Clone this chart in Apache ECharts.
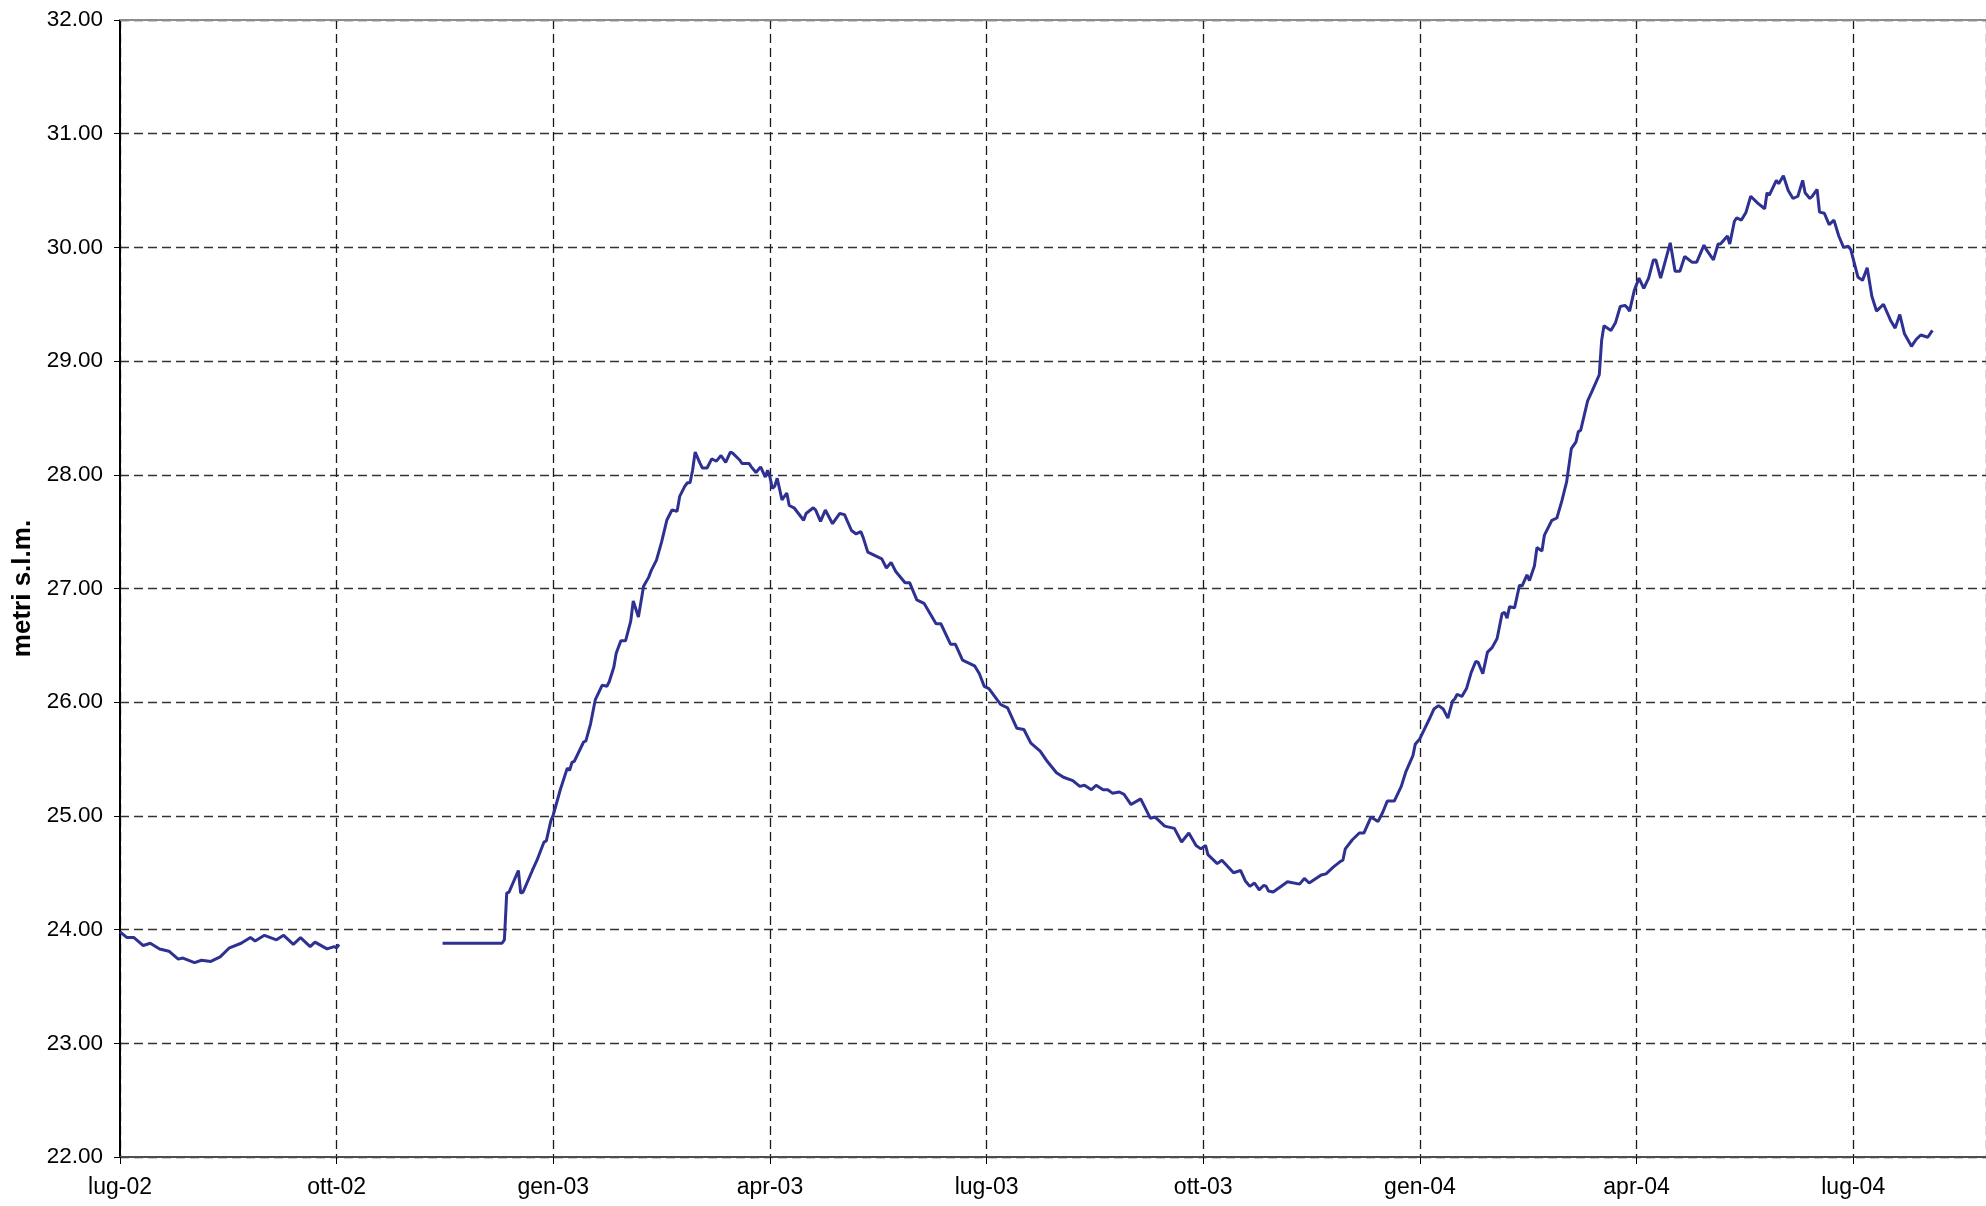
<!DOCTYPE html>
<html lang="it">
<head>
    <meta charset="UTF-8">
    <title>metri s.l.m.</title>
    <script src="https://cdn.jsdelivr.net/npm/echarts@6/dist/echarts.min.js"></script>
    <style>
        html, body { margin: 0; padding: 0; background: #fff; }
        #chart { width: 1986px; height: 1206px; }
    </style>
</head>
<body>
<div id="chart"></div>
<script type="text/javascript">

    // etichette trimestrali dell'asse x
    var quarterLabels = ['lug-02', 'ott-02', 'gen-03', 'apr-03', 'lug-03', 'ott-03', 'gen-04', 'apr-04', 'lug-04'];
    var axisStart = '2002-07-01';
    var axisEnd = '2004-08-27';

    // livello (metri s.l.m.), null = dato mancante
    var dates = [
        '2002-07-01','2002-07-04','2002-07-07','2002-07-11','2002-07-14','2002-07-18','2002-07-22','2002-07-26','2002-07-28',
        '2002-08-02','2002-08-05','2002-08-09','2002-08-13','2002-08-17','2002-08-22','2002-08-26','2002-08-28',
        '2002-09-01','2002-09-06','2002-09-09','2002-09-13','2002-09-16','2002-09-20','2002-09-22','2002-09-27','2002-09-30',
        '2002-10-01','2002-10-02','2002-10-20',
        '2002-11-15','2002-12-10','2002-12-11','2002-12-12','2002-12-13','2002-12-17','2002-12-18','2002-12-19','2002-12-23',
        '2002-12-25','2002-12-28','2002-12-29','2002-12-31',
        '2003-01-01','2003-01-04','2003-01-07','2003-01-08','2003-01-09','2003-01-10','2003-01-14','2003-01-15','2003-01-17',
        '2003-01-19','2003-01-22','2003-01-24','2003-01-25','2003-01-27','2003-01-28','2003-01-30',
        '2003-02-01','2003-02-03','2003-02-04','2003-02-06','2003-02-08','2003-02-10','2003-02-11','2003-02-13','2003-02-15',
        '2003-02-17','2003-02-19','2003-02-21','2003-02-22','2003-02-24','2003-02-25','2003-02-26','2003-02-27','2003-02-28',
        '2003-03-02','2003-03-03','2003-03-05','2003-03-07','2003-03-08','2003-03-09','2003-03-11','2003-03-13','2003-03-15',
        '2003-03-16','2003-03-18','2003-03-19','2003-03-20','2003-03-23','2003-03-24','2003-03-26','2003-03-28','2003-03-30','2003-03-31',
        '2003-04-01','2003-04-02','2003-04-03','2003-04-04','2003-04-06','2003-04-08','2003-04-09','2003-04-11','2003-04-15',
        '2003-04-16','2003-04-19','2003-04-20','2003-04-22','2003-04-24','2003-04-27','2003-04-30',
        '2003-05-02','2003-05-05','2003-05-07','2003-05-09','2003-05-10','2003-05-12','2003-05-16','2003-05-18','2003-05-20',
        '2003-05-22','2003-05-24','2003-05-28','2003-05-30',
        '2003-06-02','2003-06-05','2003-06-10','2003-06-12','2003-06-16','2003-06-18','2003-06-21','2003-06-26','2003-06-28','2003-06-30',
        '2003-07-02','2003-07-07','2003-07-10','2003-07-14','2003-07-17','2003-07-20','2003-07-24','2003-07-27','2003-07-31',
        '2003-08-03','2003-08-07','2003-08-10','2003-08-12','2003-08-15','2003-08-17','2003-08-20','2003-08-22','2003-08-24',
        '2003-08-27','2003-08-29',
        '2003-09-01','2003-09-05','2003-09-09','2003-09-11','2003-09-15','2003-09-19','2003-09-22','2003-09-25','2003-09-28','2003-09-30',
        '2003-10-02','2003-10-03','2003-10-07','2003-10-09','2003-10-14','2003-10-17','2003-10-19','2003-10-21','2003-10-23',
        '2003-10-25','2003-10-27','2003-10-28','2003-10-29','2003-10-31',
        '2003-11-04','2003-11-06','2003-11-11','2003-11-13','2003-11-15','2003-11-20','2003-11-22','2003-11-25','2003-11-28',
        '2003-11-29','2003-11-30',
        '2003-12-03','2003-12-06','2003-12-08','2003-12-11','2003-12-14','2003-12-16','2003-12-18','2003-12-21','2003-12-24',
        '2003-12-26','2003-12-29','2003-12-30',
        '2004-01-01','2004-01-05','2004-01-07','2004-01-09','2004-01-11','2004-01-13','2004-01-15','2004-01-16','2004-01-17',
        '2004-01-19','2004-01-21','2004-01-23','2004-01-25','2004-01-26','2004-01-28','2004-01-30',
        '2004-02-01','2004-02-03','2004-02-05','2004-02-06','2004-02-07','2004-02-08','2004-02-10','2004-02-12','2004-02-13',
        '2004-02-15','2004-02-16','2004-02-18','2004-02-19','2004-02-21','2004-02-22','2004-02-25','2004-02-27','2004-02-29',
        '2004-03-02','2004-03-04','2004-03-06','2004-03-07','2004-03-08','2004-03-11','2004-03-13','2004-03-16','2004-03-17',
        '2004-03-18','2004-03-21','2004-03-23','2004-03-25','2004-03-27','2004-03-28','2004-03-29','2004-03-31',
        '2004-04-02','2004-04-04','2004-04-06','2004-04-08','2004-04-09','2004-04-11','2004-04-15','2004-04-17','2004-04-19',
        '2004-04-21','2004-04-24','2004-04-26','2004-04-29','2004-04-30',
        '2004-05-03','2004-05-05','2004-05-06','2004-05-09','2004-05-10','2004-05-12','2004-05-13','2004-05-15','2004-05-17',
        '2004-05-19','2004-05-22','2004-05-25','2004-05-26','2004-05-27','2004-05-30','2004-05-31',
        '2004-06-02','2004-06-04','2004-06-06','2004-06-08','2004-06-10','2004-06-11','2004-06-13','2004-06-14','2004-06-16',
        '2004-06-17','2004-06-19','2004-06-21','2004-06-23','2004-06-25','2004-06-27','2004-06-29','2004-06-30',
        '2004-07-03','2004-07-05','2004-07-07','2004-07-09','2004-07-11','2004-07-14','2004-07-17','2004-07-19','2004-07-21',
        '2004-07-23','2004-07-26','2004-07-28','2004-07-30','2004-08-02','2004-08-04'
    ];
    var levels = [
        23.98,23.93,23.93,23.86,23.88,23.83,23.81,23.74,23.75,
        23.71,23.73,23.72,23.76,23.84,23.88,23.93,23.90,
        23.95,23.91,23.95,23.87,23.93,23.85,23.89,23.83,23.85,
        23.84,23.87,null,
        23.88,23.88,23.91,24.32,24.33,24.52,24.32,24.33,24.52,
        24.61,24.77,24.78,24.96,
        25.01,25.23,25.42,25.40,25.47,25.48,25.65,25.66,25.81,
        26.02,26.15,26.14,26.18,26.31,26.43,26.54,
        26.54,26.71,26.89,26.75,27.02,27.10,27.16,27.25,27.41,
        27.60,27.69,27.68,27.81,27.90,27.93,27.93,28.04,28.20,
        28.10,28.06,28.06,28.14,28.13,28.12,28.17,28.11,28.20,
        28.19,28.15,28.13,28.10,28.10,28.07,28.02,28.07,27.98,28.04,
        27.98,27.88,27.90,27.97,27.78,27.84,27.73,27.71,27.60,
        27.66,27.71,27.69,27.59,27.69,27.57,27.66,
        27.65,27.51,27.48,27.50,27.45,27.32,27.28,27.26,27.18,
        27.23,27.15,27.05,27.05,
        26.90,26.87,26.69,26.69,26.51,26.51,26.37,26.32,26.25,26.14,
        26.12,25.98,25.95,25.77,25.76,25.64,25.57,25.48,25.38,
        25.34,25.31,25.26,25.27,25.23,25.27,25.23,25.23,25.20,
        25.21,25.19,
        25.10,25.15,24.98,24.99,24.91,24.89,24.77,24.85,24.74,24.71,
        24.74,24.66,24.58,24.61,24.50,24.52,24.43,24.38,24.41,
        24.35,24.39,24.38,24.34,24.33,
        24.39,24.42,24.40,24.45,24.41,24.48,24.49,24.55,24.60,
        24.61,24.71,
        24.79,24.85,24.85,24.99,24.95,25.03,25.13,25.13,25.26,
        25.39,25.53,25.63,
        25.68,25.85,25.94,25.97,25.94,25.86,26.01,26.03,26.07,
        26.05,26.12,26.26,26.36,26.35,26.25,26.44,
        26.48,26.56,26.78,26.79,26.74,26.84,26.83,27.03,27.02,
        27.12,27.07,27.20,27.36,27.33,27.47,27.60,27.62,27.77,
        27.94,28.23,28.29,28.38,28.39,28.65,28.74,28.88,29.18,
        29.31,29.27,29.34,29.48,29.49,29.47,29.44,29.62,
        29.73,29.64,29.73,29.89,29.89,29.73,30.04,29.79,29.79,
        29.92,29.87,29.87,30.02,29.98,
        29.89,30.03,30.03,30.10,30.03,30.23,30.26,30.24,30.31,
        30.45,30.39,30.34,30.48,30.46,30.59,30.56,
        30.63,30.50,30.43,30.45,30.59,30.48,30.43,30.45,30.51,
        30.31,30.30,30.20,30.24,30.10,30.00,30.01,29.98,
        29.74,29.71,29.82,29.57,29.44,29.50,29.36,29.29,29.41,
        29.24,29.13,29.19,29.23,29.21,29.27
    ];

    // data -> mesi dall'inizio asse (trimestri equidistanti come nell'originale)
    function toMonths(s) {
        var p = s.split('-');
        var y = +p[0], m = +p[1], d = +p[2];
        var s0 = axisStart.split('-');
        var dim = new Date(y, m, 0).getDate();
        return (y - s0[0]) * 12 + (m - s0[1]) + (d - 1) / dim;
    }

    var points = [];
    for (var i = 0; i < dates.length; i++) {
        points.push([toMonths(dates[i]), levels[i]]);
    }
    var xMax = toMonths(axisEnd);

    var chart = echarts.init(document.getElementById('chart'));
    chart.setOption({
        animation: false,
        backgroundColor: '#fff',
        grid: { left: 120, right: 0, top: 20, bottom: 49 },
        xAxis: [{
            type: 'value',
            min: 0,
            max: xMax,
            interval: 3,
            axisLine: { lineStyle: { color: '#4d4d4d', width: 2 } },
            axisTick: { length: 7, lineStyle: { color: '#000', width: 1 } },
            axisLabel: {
                margin: 19,
                fontFamily: 'Liberation Sans',
                fontSize: 23,
                color: '#000',
                showMaxLabel: false,
                formatter: function (v) {
                    var k = Math.round(v / 3);
                    if (Math.abs(v - k * 3) > 1e-6) return '';
                    return quarterLabels[k] || '';
                }
            },
            splitLine: { lineStyle: { color: '#1a1a1a', type: [9, 5], width: 1.3 } }
        }, {
            // bordo superiore dell'area del grafico
            type: 'value',
            position: 'top',
            min: 0,
            max: xMax,
            axisLine: { lineStyle: { color: '#8c8c8c', width: 2 } },
            axisTick: { show: false },
            axisLabel: { show: false },
            splitLine: { show: false }
        }],
        yAxis: {
            type: 'value',
            min: 22,
            max: 32,
            interval: 1,
            name: 'metri s.l.m.',
            nameLocation: 'middle',
            nameGap: 83,
            nameTextStyle: {
                fontFamily: 'Liberation Sans',
                fontSize: 26,
                fontWeight: 'bold',
                color: '#000'
            },
            axisLine: { show: true, lineStyle: { color: '#000', width: 2 } },
            axisTick: { show: true, length: 6, lineStyle: { color: '#000', width: 1 } },
            axisLabel: {
                margin: 17,
                fontFamily: 'Liberation Sans',
                fontSize: 22.5,
                color: '#000',
                formatter: function (v) { return v.toFixed(2); }
            },
            splitLine: { lineStyle: { color: '#333', type: [9, 5], width: 1.3 } }
        },
        series: [{
            type: 'line',
            data: points,
            showSymbol: false,
            connectNulls: false,
            lineStyle: { color: '#2e3192', width: 3 }
        }]
    });

</script>
</body>
</html>
